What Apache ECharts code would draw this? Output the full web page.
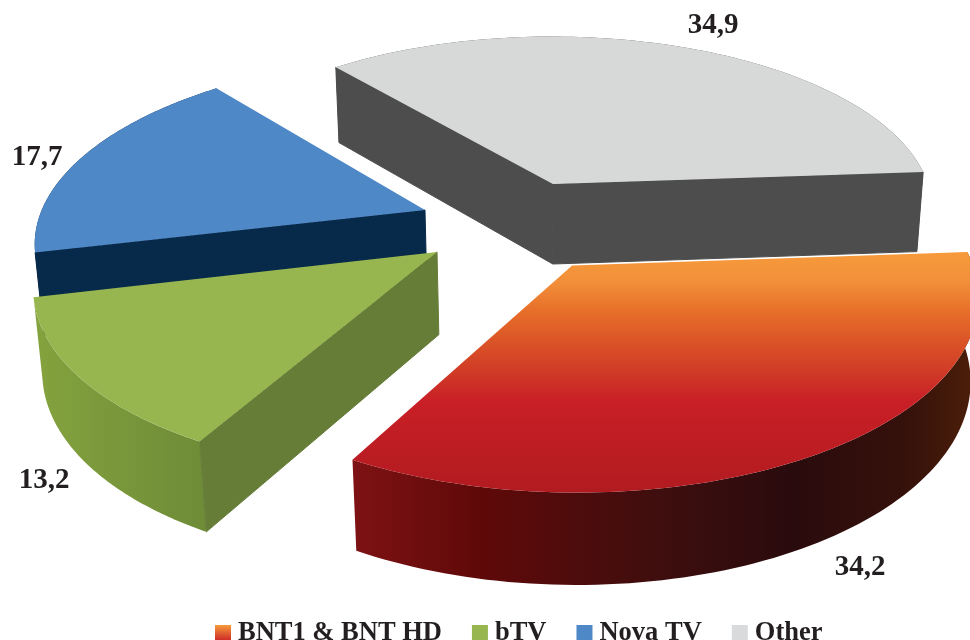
<!DOCTYPE html>
<html><head><meta charset="utf-8">
<style>html,body{margin:0;padding:0;background:#fff}#c{width:970px;height:640px}</style>
<script src="https://cdn.jsdelivr.net/npm/echarts@6/dist/echarts.min.js"></script>
</head><body><div id="c"></div>
<script>
// Data
const categories = ['BNT1 & BNT HD', 'bTV', 'Nova TV', 'Other'];
const values = [34.2, 13.2, 17.7, 34.9];
const valueLabels = ['34,2', '13,2', '17,7', '34,9'];

// Perspective pie layout (plane units = px at reference depth)
const view = {xc: 542, cy: 184, horizon: 1000, q: 2636, radius: 375, startAngle: 4.1,
  depth: 80, depthSlope: 0.04, vanishY: 5000, steps: 90};
const explode = [[28.2, -170], [-99.3, -143], [-114.5, -56.7], [11, 0]];
const labelPos = [[860, 568], [44, 481], [37, 158], [713, 26]];
const FONT = '"Liberation Serif","DejaVu Serif",serif';
const hGrad = (stops) => new echarts.graphic.LinearGradient(0, 0, 1, 0, stops);
const vGrad = (stops) => new echarts.graphic.LinearGradient(0, 0, 0, 1, stops);
const topFill = [
  vGrad([{offset:0,color:'#f69a3a'},{offset:.12,color:'#f2903a'},{offset:.24,color:'#e8702a'},{offset:.38,color:'#da5227'},
         {offset:.5,color:'#d03a26'},{offset:.62,color:'#c91f26'},{offset:1,color:'#b11b20'}]),
  '#97b650', '#4f88c6', '#d7d9d8'];
const sideFill = [
  hGrad([{offset:0,color:'#7e1214'},{offset:.2,color:'#600909'},{offset:.5,color:'#3e0e0e'},{offset:.7,color:'#2a0b0d'},
         {offset:.88,color:'#35110b'},{offset:1,color:'#4c1f08'}]),
  hGrad([{offset:0,color:'#84a33e'},{offset:1,color:'#6e8b37'}]),
  '#07294a', '#4d4d4d'];
const wallFill = ['#600909', '#667d38', '#07294a', '#4d4d4d'];
const legendFill = [
  vGrad([{offset:0,color:'#f69a3a'},{offset:1,color:'#c91f26'}]),
  '#97b650', '#4f88c6', '#d9dadb'];

function project(X, Y) {
  const w = 1 + Y / view.q;
  return [view.xc + X / w, -view.horizon + (view.cy + view.horizon) / w];
}
function drop(p) {
  const d = view.depth + view.depthSlope * (p[1] - view.cy);
  return [p[0] + (view.xc - p[0]) * d / (view.vanishY - p[1]), p[1] + d];
}
const total = values.reduce((a, b) => a + b, 0);

function sliceChildren(i) {
  const before = values.slice(0, i).reduce((a, b) => a + b, 0);
  const a0 = view.startAngle - before / total * 360;
  const a1 = a0 - values[i] / total * 360;
  const [ex, ey] = explode[i];
  const arc = [];
  for (let k = 0; k <= view.steps; k++) {
    const t = (a0 + (a1 - a0) * k / view.steps) * Math.PI / 180;
    arc.push(project(ex + view.radius * Math.cos(t), ey + view.radius * Math.sin(t)));
  }
  const apex = project(ex, ey);
  const mid = arc[Math.round(view.steps / 2)];
  const kids = [];
  const poly = (points, fill, stroke) => kids.push({type: 'polygon', shape: {points},
    style: {fill, stroke: stroke || null, lineWidth: stroke ? 1 : 0}, silent: true});
  poly(arc.concat(arc.map(drop).reverse()), sideFill[i]);
  [arc[0], arc[arc.length - 1]].forEach(e => {
    const edgeY = apex[1] + (e[1] - apex[1]) * (mid[0] - apex[0]) / (e[0] - apex[0]);
    if (mid[1] < edgeY) poly([apex, e, drop(e), drop(apex)], wallFill[i], wallFill[i]);
  });
  poly([apex].concat(arc), topFill[i]);
  kids.push({type: 'text', silent: true, style: {
    text: valueLabels[i], x: labelPos[i][0], y: labelPos[i][1], fill: '#231f20',
    font: 'bold 29px ' + FONT, align: 'center', verticalAlign: 'middle'}});
  return kids;
}

const series = categories.map((name, i) => ({
  type: 'custom', name, coordinateSystem: 'none', clip: false, z: 10 - i, animation: false,
  itemStyle: {color: legendFill[i]},
  data: [{name, value: values[i]}],
  renderItem: () => ({type: 'group', children: sliceChildren(i)})
}));

const chart = echarts.init(document.getElementById('c'), null, {renderer: 'canvas'});
chart.setOption({
  animation: false,
  backgroundColor: '#fff',
  legend: {
    data: categories, left: 215, top: 620, itemWidth: 16, itemHeight: 17, itemGap: 30, icon: 'rect',
    padding: 0, selectedMode: false,
    textStyle: {fontFamily: FONT, fontWeight: 'bold', fontSize: 26.5, color: '#231f20', padding: [0, 0, 0, 2]}
  },
  series
});
</script></body></html>
